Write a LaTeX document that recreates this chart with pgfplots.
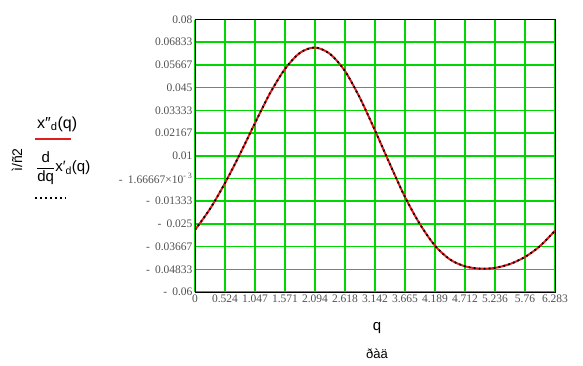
\documentclass[border=0pt]{standalone}
\usepackage{fontspec}
\setmainfont{Liberation Serif}
\newfontfamily\arialf{Liberation Sans}
\usepackage{pgfplots}
\usepackage{pgfplotstable}
\pgfplotsset{compat=1.18}
\definecolor{gridgreen}{RGB}{0,215,0}
\definecolor{curvered}{RGB}{225,30,30}
\definecolor{ticktext}{RGB}{80,80,80}

\pgfplotstableread{
x y
0.0000 -0.0281
0.2618 -0.0173
0.5236 -0.0040
0.7854 0.0109
1.0472 0.0268
1.3090 0.0421
1.5708 0.0546
1.8326 0.0629
2.0944 0.0656
2.3562 0.0623
2.6180 0.0535
2.8798 0.0396
3.1416 0.0230
3.4034 0.0056
3.6652 -0.0112
3.9270 -0.0252
4.1888 -0.0362
4.4506 -0.0433
4.7124 -0.0468
4.9742 -0.0480
5.2360 -0.0476
5.4978 -0.0456
5.7596 -0.0420
6.0214 -0.0364
6.2832 -0.0285
}\curvedata

\newcommand{\mn}{-\hspace{0.45em}}
\begin{document}
\begin{tikzpicture}[x=1pt,y=1pt]
\useasboundingbox (0,0) rectangle (583,365);
\begin{axis}[
  at={(195pt,73pt)}, anchor=south west, scale only axis,
  width=360pt, height=272.5pt,
  xmin=0, xmax=6.283185, ymin=-0.06, ymax=0.08,
  scaled y ticks=false, scaled x ticks=false,
  xtick={0,0.523599,1.047198,1.570796,2.094395,2.617994,3.141593,3.665191,4.188790,4.712389,5.235988,5.759587,6.283185},
  xticklabels={0,0.524,1.047,1.571,2.094,2.618,3.142,3.665,4.189,4.712,5.236,5.76,6.283},
  ytick={-0.06,-0.048333,-0.036667,-0.025,-0.013333,-0.0016667,0.01,0.021667,0.033333,0.045,0.056667,0.068333,0.08},
  yticklabels={{\mn 0.06},{\mn 0.04833},{\mn 0.03667},{\mn 0.025},{\mn 0.01333},{\mn 1.66667\texttimes 10\textsuperscript{-\ 3}},{0.01},{0.02167},{0.03333},{0.045},{0.05667},{0.06833},{0.08}},
  xmajorgrids=true, ymajorgrids=true,
  major x grid style={draw=gridgreen, line width=1.5pt},
  major y grid style={draw=gridgreen, line width=1.5pt},
  major tick length=0pt,
  tick style={draw=none},
  axis line style={black, line width=1pt},
  tick label style={font=\fontsize{11.5}{12}\selectfont, text=ticktext},
  yticklabel style={xshift=1pt},
  xticklabel style={yshift=1pt},
]
\addplot[curvered, line width=2pt, smooth] table[x=x,y=y] {\curvedata};
\addplot[black, line width=1.8pt, dash pattern=on 1.8pt off 3.2pt, smooth] table[x=x,y=y] {\curvedata};
\end{axis}
\node[rotate=90, font=\arialf\fontsize{14}{14}\selectfont] at (17,205) {ì/ñ2};
\node[anchor=base west, font=\arialf\fontsize{16}{16}\selectfont, inner sep=0pt] at (37,237) {x″\textsubscript{d}(q)};
\draw[curvered, line width=2pt] (35,226) -- (71,226);
\node[anchor=west, font=\arialf\fontsize{15}{15}\selectfont, inner sep=0pt] at (36,197) {$\displaystyle\frac{\hbox{d}}{\hbox{dq}}$x′\textsubscript{d}(q)};
\draw[black, line width=1.8pt, dash pattern=on 1.8pt off 3.2pt] (35,167.3) -- (66,167.3);
\node[font=\arialf\fontsize{15}{15}\selectfont] at (377,37) {q};
\node[font=\arialf\fontsize{13}{13}\selectfont] at (377,11) {ðàä};
\end{tikzpicture}
\end{document}
